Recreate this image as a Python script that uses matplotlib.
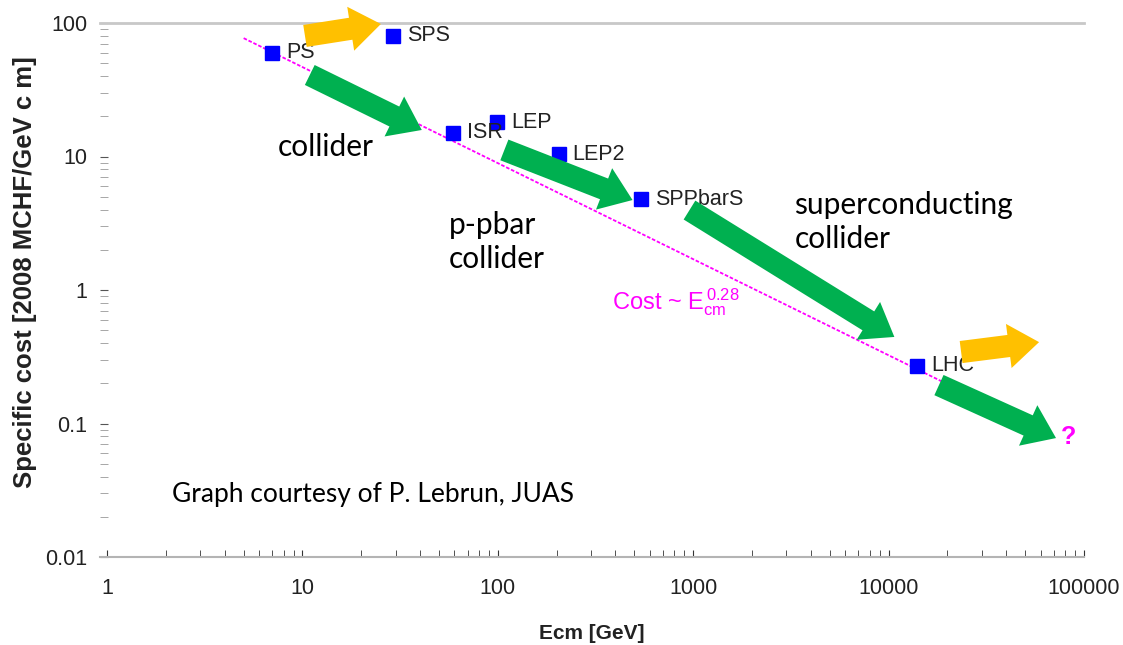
import matplotlib.pyplot as plt

# accelerator data (Ecm in GeV, specific cost)
machines = ["PS", "SPS", "ISR", "LEP", "LEP2", "SPPbarS", "LHC"]
ecm = [7, 29, 59, 99, 205, 540, 14000]
cost = [60, 80, 15, 18, 10.4, 4.8, 0.27]

# power-law fit line end points
fit_x = [5, 70000]
fit_y = [77, 0.08]

# block arrows: (tail, tip, colour)
arrows = [
    ((10.9, 40.8), (40.8, 15.8), "#00B050"),
    ((108, 11.2), (489, 4.72), "#00B050"),
    ((957, 3.97), (10700, 0.445), "#00B050"),
    ((18100, 0.194), (71900, 0.0778), "#00B050"),
    ((10.3, 80), (25.2, 98.3), "#FFC000"),
    ((23500, 0.343), (58900, 0.407), "#FFC000"),
]

plt.rcParams['font.family'] = ['Liberation Sans', 'DejaVu Sans']
plt.rcParams['mathtext.default'] = 'regular'

fig = plt.figure(figsize=(11.23, 6.45), dpi=100)
ax = fig.add_axes([100 / 1123, 1 - 557 / 645, 984 / 1123, 534 / 645])
ax.set_xscale('log')
ax.set_yscale('log')
ax.set_xlim(0.92, 1e5)
ax.set_ylim(0.01, 100)

ax.plot(fit_x, fit_y, color='#FF00FF', lw=1.3, ls=(0, (2, 1)), zorder=2)
ax.plot(ecm, cost, 's', color='#0000FF', ms=9.5, zorder=3)
for name, x, y in zip(machines, ecm, cost):
    ax.annotate(name, (x, y), xytext=(10, 0), textcoords='offset points',
                va='center', ha='left', fontsize=15.5, color='#222222', zorder=4)

for tail, tip, col in arrows:
    ax.annotate('', xy=tip, xytext=tail,
                arrowprops=dict(arrowstyle='simple,head_length=1.1,head_width=1.6,tail_width=0.8',
                                fc=col, ec='none', shrinkA=0, shrinkB=0, mutation_scale=20),
                zorder=5)

note_font = ['Lato', 'DejaVu Sans']
ax.text(7.49, 11.8, "collider", fontsize=21.5, family=note_font, va='center', ha='left')
ax.text(56, 2.29, "p-pbar\ncollider", fontsize=21.5, family=note_font, va='center', ha='left',
        linespacing=1.3)
ax.text(3290, 3.23, "superconducting\ncollider", fontsize=21.5, family=note_font, va='center',
        ha='left', linespacing=1.3)
ax.text(2.15, 0.0296, "Graph courtesy of P. Lebrun, JUAS", fontsize=19, family=note_font,
        va='center', ha='left')
ax.text(382, 0.813, r"Cost ~ E$_{cm}^{\,0.28}$", fontsize=17, color='#FF00FF',
        va='center', ha='left')
ax.text(76200, 0.0792, "?", fontsize=18, fontweight='bold', color='#FF00FF',
        va='center', ha='left')

for side in ['left', 'right']:
    ax.spines[side].set_visible(False)
ax.spines['top'].set_color('#c8c8c8')
ax.spines['top'].set_linewidth(2)
ax.spines['bottom'].set_color('#b4b4b4')
ax.spines['bottom'].set_linewidth(1.5)

ax.set_xticks([1, 10, 100, 1000, 10000, 100000])
ax.set_xticklabels(["1", "10", "100", "1000", "10000", "100000"])
ax.set_yticks([0.01, 0.1, 1, 10, 100])
ax.set_yticklabels(["0.01", "0.1", "1", "10", "100"])
ax.tick_params(axis='x', which='both', direction='in', length=5, color='#333333',
               labelsize=15.5, pad=15, labelcolor='#222222')
ax.tick_params(axis='y', which='both', direction='in', length=6, color='#555555',
               labelsize=15.5, pad=9, labelcolor='#222222')
ax.tick_params(axis='y', which='minor', color='#999999')

ax.set_xlabel("Ecm [GeV]", fontsize=15, fontweight='bold', color='#222222')
ax.xaxis.set_label_coords(0.5, -0.1255)
ax.set_ylabel("Specific cost [2008 MCHF/GeV c m]", fontsize=18.5, fontweight='bold',
              color='#222222', va='center')
ax.yaxis.set_label_coords(-0.076, 0.534)

fig.savefig("out.png", dpi=100)
